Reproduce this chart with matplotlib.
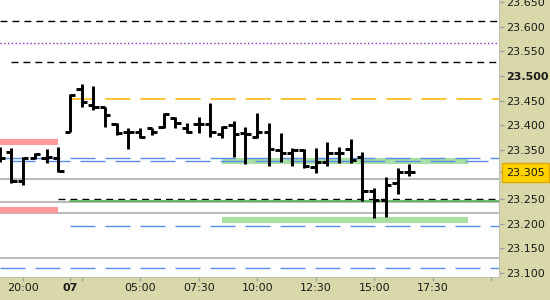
import matplotlib
matplotlib.use('Agg')
import matplotlib.pyplot as plt


# ----------------------------------------------------------------------------------------------------
# データ (30分足, 06日 19:00 〜 07日 16:30)
# ----------------------------------------------------------------------------------------------------
bar_times = ['19:00', '19:30', '20:00', '20:30', '21:00', '21:30',
			 '02:00', '02:30', '03:00', '03:30', '04:00', '04:30', '05:00', '05:30', '06:00', '06:30',
			 '07:00', '07:30', '08:00', '08:30', '09:00', '09:30', '10:00', '10:30', '11:00', '11:30',
			 '12:00', '12:30', '13:00', '13:30', '14:00', '14:30', '15:00', '15:30', '16:00', '16:30']
first_index = -6		# 07日 02:00 の足を 0 とする

opens = [23.345, 23.345, 23.286, 23.333, 23.334, 23.333,
		 23.387, 23.474, 23.441, 23.437, 23.402, 23.385, 23.386, 23.394, 23.397, 23.414,
		 23.394, 23.402, 23.402, 23.382, 23.400, 23.383, 23.375, 23.387, 23.349, 23.343,
		 23.349, 23.314, 23.326, 23.343, 23.351, 23.335, 23.266, 23.248, 23.283, 23.305]
highs = [23.356, 23.354, 23.335, 23.343, 23.351, 23.356,
		 23.463, 23.484, 23.480, 23.437, 23.404, 23.394, 23.394, 23.394, 23.425, 23.417,
		 23.404, 23.417, 23.445, 23.398, 23.408, 23.397, 23.425, 23.405, 23.383, 23.353,
		 23.351, 23.353, 23.366, 23.356, 23.371, 23.345, 23.272, 23.294, 23.312, 23.321]
lows = [23.325, 23.282, 23.278, 23.331, 23.323, 23.305,
		23.387, 23.437, 23.431, 23.397, 23.380, 23.351, 23.374, 23.380, 23.394, 23.394,
		23.384, 23.384, 23.376, 23.374, 23.336, 23.321, 23.373, 23.317, 23.326, 23.317,
		23.312, 23.302, 23.317, 23.324, 23.324, 23.246, 23.212, 23.214, 23.261, 23.297]
closes = [23.334, 23.286, 23.333, 23.341, 23.335, 23.307,
		  23.461, 23.448, 23.437, 23.421, 23.384, 23.387, 23.376, 23.387, 23.423, 23.405,
		  23.387, 23.402, 23.387, 23.397, 23.382, 23.381, 23.387, 23.351, 23.343, 23.349,
		  23.316, 23.326, 23.343, 23.343, 23.329, 23.267, 23.248, 23.278, 23.305, 23.305]
last_price = 23.305

# 水平ライン (価格, 開始足, 終了足)
gray_levels = [23.290, 23.2435, 23.2207, 23.1293]
black_dash_levels = [(23.612, None, None), (23.528, -5.0, None), (23.2492, -1.0, None)]
purple_dot_levels = [(23.567, None, None)]
orange_dash_levels = [(23.454, 0, None)]
blue_dash_levels = [(23.333, None, None), (23.3265, -5.1, 35.7), (23.195, 0, None), (23.110, None, None)]
green_line_levels = [(23.2457, 0, None)]
pink_zones = [(23.366, None, -1.0), (23.227, None, -1.0)]
green_zones = [(23.3262, 13.0, 34.0), (23.207, 13.0, 34.0)]

# 軸目盛
y_ticks = [23.100, 23.150, 23.200, 23.250, 23.305, 23.350, 23.400, 23.450, 23.500, 23.550, 23.600, 23.650]
y_tick_labels = ['23.100', '23.150', '23.200', '23.250', '23.305', '23.350', '23.400', '23.450',
				 '23.500', '23.550', '23.600', '23.650']
x_ticks = [-4, 0, 1, 6, 11, 16, 21, 26, 31, 36]
x_tick_labels = ['20:00', '07', '', '05:00', '07:30', '10:00', '12:30', '15:00', '17:30', '']


# ----------------------------------------------------------------------------------------------------
# グラフ描画
# ----------------------------------------------------------------------------------------------------
TAN = '#d9d8aa'
fig = plt.figure(figsize=(5.5, 3.0), dpi=100)
fig.patch.set_facecolor(TAN)
ax = fig.add_axes([0, 23 / 300, 499 / 550, 277 / 300])
ax.set_facecolor('white')

x_min, x_max = -5.98, 36.67
ax.set_xlim(x_min, x_max)
ax.set_ylim(23.0913, 23.6543)


def hline(price, start, end, **kw):
	s = x_min if start is None else start
	e = x_max if end is None else end
	line, = ax.plot([s, e], [price, price], **kw)
	return line


# グレー実線
for p in gray_levels:
	hline(p, None, None, color='#a8a8a8', lw=1.1, zorder=1)

# ゾーン (太帯)
for (p, s, e) in pink_zones:
	hline(p, s, e, color='#ff9a9a', lw=4.4, solid_capstyle='butt', zorder=2)
for (p, s, e) in green_zones:
	hline(p, s, e, color='#a9dfa3', lw=4.4, solid_capstyle='butt', zorder=2)

# 破線類
for (p, s, e) in black_dash_levels:
	hline(p, s, e, color='black', lw=1.0, dashes=(5, 3.6), zorder=3)
for (p, s, e) in purple_dot_levels:
	hline(p, s, e, color='#7a30c8', lw=1.0, dashes=(1, 1.7), zorder=3)
for (p, s, e) in orange_dash_levels:
	hline(p, s, e, color='#ffb400', lw=1.1, dashes=(16.5, 6.5), zorder=3)
for (p, s, e) in blue_dash_levels:
	hline(p, s, e, color='#5a8cf0', lw=1.0, dashes=(18, 7.2), zorder=3)
for (p, s, e) in green_line_levels:
	hline(p, s, e, color='#44b044', lw=1.1, zorder=3)

# OHLCバー
xs = [first_index + i for i in range(len(bar_times))]
tick_w = 0.45
ax.vlines(xs, lows, highs, color='black', lw=2.1, zorder=5)
ax.hlines(opens, [x - tick_w for x in xs], xs, color='black', lw=2.1, zorder=5)
ax.hlines(closes, xs, [x + tick_w for x in xs], color='black', lw=2.1, zorder=5)

# 枠線
for side in ['top', 'left']:
	ax.spines[side].set_visible(False)
for side in ['bottom', 'right']:
	ax.spines[side].set_color('#c0c0b0')
	ax.spines[side].set_linewidth(0.8)

# Y軸 (右側)
ax.yaxis.tick_right()
ax.set_yticks(y_ticks, y_tick_labels)
ax.tick_params(axis='y', which='major', length=3.6, width=1.0, color='#a0a0a0', pad=1.4,
			   labelsize=8, labelcolor='#1a1a1a')
for lbl in ax.get_yticklabels():
	if lbl.get_text() == '23.500':
		lbl.set_fontweight('bold')
	if lbl.get_text() == '23.305':
		lbl.set_bbox(dict(boxstyle='square,pad=0.4', facecolor='#ffd200', edgecolor='#e0a800', lw=1.0))
for (tick, val) in zip(ax.yaxis.get_major_ticks(), y_ticks):
	if val == last_price:
		tick.tick2line.set_color('black')

# X軸
ax.set_xticks(x_ticks, x_tick_labels)
ax.tick_params(axis='x', which='major', length=3.0, width=1.0, color='#a0a0a0', pad=1.5,
			   labelsize=8, labelcolor='#1a1a1a')
for lbl in ax.get_xticklabels():
	if lbl.get_text() == '07':
		lbl.set_fontweight('bold')

plt.savefig('out.png', dpi=100, facecolor=TAN)
plt.close(fig)
